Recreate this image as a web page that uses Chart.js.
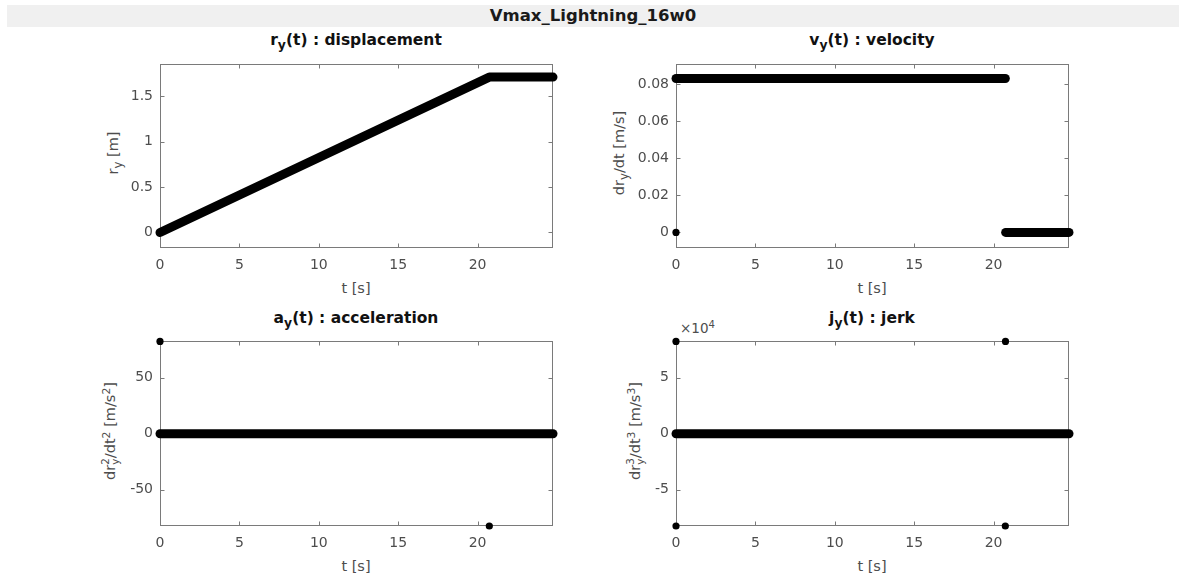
<!DOCTYPE html>
<html>
<head>
<meta charset="utf-8">
<script src="https://cdn.jsdelivr.net/npm/chart.js@4.4.1/dist/chart.umd.min.js"></script>
<style>
  html, body { margin:0; padding:0; background:#fff; }
  body { width:1179px; height:578px; position:relative; overflow:hidden; font-family:"DejaVu Sans", sans-serif; }
  .band { position:absolute; left:7px; top:5px; width:1172px; height:22px; background:#f0f0f0; }
  .suptitle { position:absolute; left:593px; top:7px; transform:translateX(-50%); font-size:16.5px; font-weight:bold; color:#1a1a1a; line-height:17px; white-space:nowrap; }
  .ptitle { position:absolute; transform:translateX(-50%); font-size:15.5px; font-weight:bold; color:#111; line-height:16px; white-space:nowrap; }
  .xlab { position:absolute; transform:translate(-50%,-50%); font-size:14.5px; color:#4d4d4d; line-height:16px; white-space:nowrap; }
  .ylab { position:absolute; transform:translate(-50%,-50%) rotate(-90deg); font-size:14.5px; color:#4d4d4d; line-height:16px; white-space:nowrap; }
  .exp { position:absolute; font-size:13.5px; color:#4d4d4d; line-height:14px; white-space:nowrap; }
  sub { font-size:80%; vertical-align:-0.35em; line-height:0; }
  sup { font-size:75%; vertical-align:0.45em; line-height:0; }
  .ss { display:inline-block; font-size:72%; line-height:0.95; vertical-align:-0.35em; text-align:left; }
  .ss span { display:block; }
  canvas { position:absolute; }
</style>
</head>
<body>

<div class="band"></div>
<div class="suptitle">Vmax_Lightning_16w0</div>

<div class="ptitle" style="left:356px; top:32px;">r<sub>y</sub>(t) : displacement</div>
<div class="ptitle" style="left:872px; top:32px;">v<sub>y</sub>(t) : velocity</div>
<div class="ptitle" style="left:356px; top:310px;">a<sub>y</sub>(t) : acceleration</div>
<div class="ptitle" style="left:872px; top:310px;">j<sub>y</sub>(t) : jerk</div>

<div class="xlab" style="left:356px; top:288px;">t [s]</div>
<div class="xlab" style="left:872px; top:288px;">t [s]</div>
<div class="xlab" style="left:356px; top:566px;">t [s]</div>
<div class="xlab" style="left:872px; top:566px;">t [s]</div>

<div class="ylab" style="left:113px; top:153px;">r<sub>y</sub> [m]</div>
<div class="ylab" style="left:619px; top:153px;">dr<sub>y</sub>/dt [m/s]</div>
<div class="ylab" style="left:111px; top:431px;">dr<span class="ss"><span>2</span><span>y</span></span>/dt<sup>2</sup> [m/s<sup>2</sup>]</div>
<div class="ylab" style="left:636px; top:431px;">dr<span class="ss"><span>3</span><span>y</span></span>/dt<sup>3</sup> [m/s<sup>3</sup>]</div>

<div class="exp" style="left:680px; top:321px;">&times;10<sup>4</sup></div>

<canvas id="c1"></canvas>
<canvas id="c2"></canvas>
<canvas id="c3"></canvas>
<canvas id="c4"></canvas>

<script>
/* ---------- data ---------- */

const xTicks = [0, 5, 10, 15, 20];
const xLabels = ["0", "5", "10", "15", "20"];
const xRange = [0, 24.75];

// displacement r_y(t)
const tDisp = [0, 20.74, 24.75];
const rDisp = [0, 1.71, 1.71];
const rRange = [-0.171, 1.85];
const rTicks = [0, 0.5, 1, 1.5];
const rLabels = ["0", "0.5", "1", "1.5"];

// velocity v_y(t)
const tVelHigh = [0.001, 20.74];
const vVelHigh = [0.083, 0.083];
const tVelLow = [20.76, 24.75];
const vVelLow = [0, 0];
const tVelPts = [0];
const vVelPts = [0];
const vRange = [-0.0084, 0.0906];
const vTicks = [0, 0.02, 0.04, 0.06, 0.08];
const vLabels = ["0", "0.02", "0.04", "0.06", "0.08"];

// acceleration a_y(t)
const tAccRun = [0.001, 24.75];
const aAccRun = [0, 0];
const tAccPts = [0, 20.74];
const aAccPts = [82.5, -82.5];
const aRange = [-82.5, 82.5];
const aTicks = [-50, 0, 50];
const aLabels = ["-50", "0", "50"];

// jerk j_y(t)
const tJerkRun = [0.002, 24.75];
const jJerkRun = [0, 0];
const tJerkPts = [0, 0.001, 20.74, 20.75];
const jJerkPts = [82500, -82500, -82500, 82500];
const jRange = [-82500, 82500];
const jTicks = [-50000, 0, 50000];
const jLabels = ["-5", "0", "5"];


/* ---------- helpers ---------- */

const Y_AXIS_W = 70;
const X_AXIS_H = 50;
const PAD_T = 10;
const PAD_R = 10;

function pts(ts, vs){
  return ts.map((t, i) => ({x: t, y: vs[i]}));
}

function run(ts, vs){
  return {
    data: pts(ts, vs),
    showLine: true,
    borderColor: "#000",
    borderWidth: 9,
    borderCapStyle: "round",
    borderJoinStyle: "round",
    pointRadius: 0,
    clip: false
  };
}

function dots(ts, vs){
  return {
    data: pts(ts, vs),
    showLine: false,
    backgroundColor: "#000",
    borderColor: "#000",
    pointRadius: 3.6,
    borderWidth: 0,
    clip: false
  };
}

// MATLAB-style box with inward ticks on all four sides
const boxPlugin = {
  id: "matlabBox",
  beforeDatasetsDraw(chart){
    const {ctx, chartArea: a, scales} = chart;
    const L = Math.round(a.left) + 0.5, R = Math.round(a.right) - 0.5;
    const T = Math.round(a.top) + 0.5, B = Math.round(a.bottom) - 0.5;
    ctx.save();
    ctx.strokeStyle = "#7a7a7a";
    ctx.lineWidth = 1;
    ctx.strokeRect(L, T, R - L, B - T);
    ctx.beginPath();
    scales.x.ticks.forEach(tk => {
      const px = Math.round(scales.x.getPixelForValue(tk.value)) + 0.5;
      ctx.moveTo(px, B); ctx.lineTo(px, B - 4);
      ctx.moveTo(px, T); ctx.lineTo(px, T + 4);
    });
    scales.y.ticks.forEach(tk => {
      const py = Math.round(scales.y.getPixelForValue(tk.value)) + 0.5;
      ctx.moveTo(L, py); ctx.lineTo(L + 4, py);
      ctx.moveTo(R, py); ctx.lineTo(R - 4, py);
    });
    ctx.stroke();
    ctx.restore();
  }
};

function makePanel(id, geom, datasets, yRange, yTicks, yLabels){
  const cv = document.getElementById(id);
  const w = (geom.r - geom.l) + Y_AXIS_W + PAD_R;
  const h = (geom.b - geom.t) + PAD_T + X_AXIS_H;
  cv.width = w;
  cv.height = h;
  cv.style.left = (geom.l - Y_AXIS_W) + "px";
  cv.style.top = (geom.t - PAD_T) + "px";

  const tickFont = {family: "DejaVu Sans", size: 14};

  return new Chart(cv, {
    type: "scatter",
    data: {datasets: datasets},
    options: {
      responsive: false,
      animation: false,
      events: [],
      layout: {padding: {top: PAD_T, right: PAD_R, left: 0, bottom: 0}},
      plugins: {legend: {display: false}, tooltip: {enabled: false}},
      scales: {
        x: {
          type: "linear",
          min: xRange[0],
          max: xRange[1],
          afterBuildTicks: s => { s.ticks = xTicks.map(v => ({value: v})); },
          afterFit: s => { s.height = X_AXIS_H; },
          grid: {display: false, drawTicks: false},
          border: {display: false},
          ticks: {
            autoSkip: false,
            maxRotation: 0,
            padding: 9,
            color: "#4d4d4d",
            font: tickFont,
            callback: (v, i) => xLabels[i]
          }
        },
        y: {
          type: "linear",
          min: yRange[0],
          max: yRange[1],
          afterBuildTicks: s => { s.ticks = yTicks.map(v => ({value: v})); },
          afterFit: s => { s.width = Y_AXIS_W; },
          grid: {display: false, drawTicks: false},
          border: {display: false},
          ticks: {
            autoSkip: false,
            padding: 7,
            color: "#4d4d4d",
            font: tickFont,
            callback: (v, i) => yLabels[i]
          }
        }
      }
    },
    plugins: [boxPlugin]
  });
}


/* ---------- the four subplots ---------- */

makePanel("c1", {l: 160, r: 553, t: 59, b: 248},
  [run(tDisp, rDisp)],
  rRange, rTicks, rLabels);

makePanel("c2", {l: 676, r: 1069, t: 59, b: 248},
  [run(tVelHigh, vVelHigh), run(tVelLow, vVelLow), dots(tVelPts, vVelPts)],
  vRange, vTicks, vLabels);

makePanel("c3", {l: 160, r: 553, t: 336, b: 526},
  [run(tAccRun, aAccRun), dots(tAccPts, aAccPts)],
  aRange, aTicks, aLabels);

makePanel("c4", {l: 676, r: 1069, t: 336, b: 526},
  [run(tJerkRun, jJerkRun), dots(tJerkPts, jJerkPts)],
  jRange, jTicks, jLabels);
</script>
</body>
</html>
